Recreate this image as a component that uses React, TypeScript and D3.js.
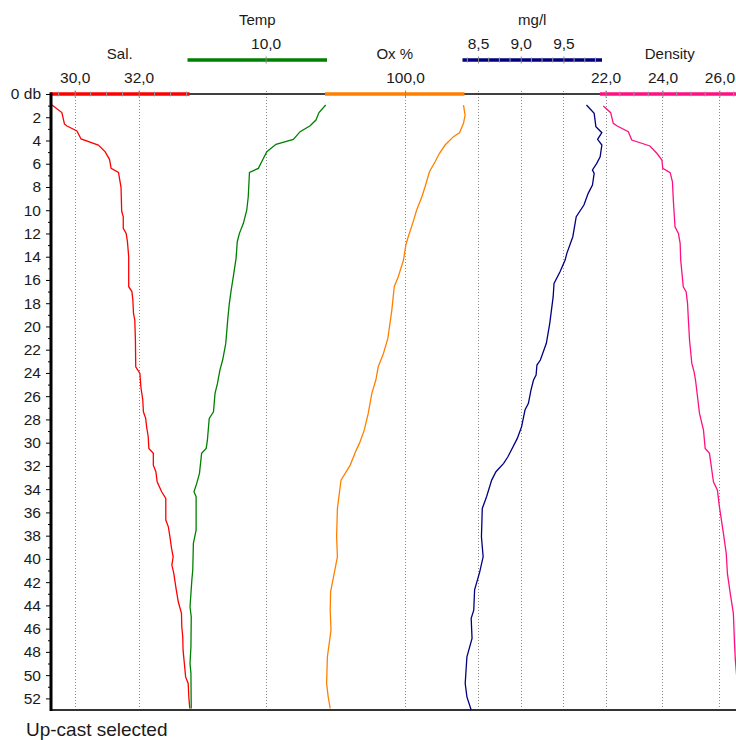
import React, { useEffect, useRef } from "react";
import * as d3 from "d3";

// [depth (db), value] pairs (up-cast)
const salinity: [number, number][] = [
  [0.95, 29.29], [1.6, 29.6], [2.58, 29.68], [2.75, 29.76], [3.18, 30.07], [3.87, 30.2],
  [4.39, 30.74], [4.96, 30.95], [5.62, 31.09], [6.4, 31.14], [6.74, 31.37], [8.03, 31.45],
  [10.07, 31.47], [10.56, 31.52], [11.56, 31.52], [11.99, 31.61], [12.7, 31.65], [14.0, 31.69],
  [16.58, 31.69], [17.0, 31.79], [17.73, 31.82], [18.87, 31.84], [19.45, 31.88], [21.17, 31.9],
  [23.47, 31.91], [24.04, 32.04], [25.19, 32.07], [26.33, 32.13], [27.34, 32.15], [27.91, 32.22],
  [28.63, 32.25], [29.49, 32.3], [30.49, 32.32], [30.92, 32.46], [31.93, 32.46], [32.5, 32.54],
  [33.36, 32.58], [34.22, 32.72], [34.8, 32.85], [36.66, 32.85], [37.24, 32.93], [38.1, 32.98],
  [39.1, 33.03], [39.82, 33.08], [40.53, 33.04], [41.25, 33.1], [42.54, 33.17], [43.69, 33.24],
  [44.69, 33.34], [45.84, 33.35], [46.7, 33.38], [47.85, 33.39], [48.99, 33.43], [50.15, 33.47],
  [50.72, 33.55], [51.87, 33.57], [52.87, 33.6],
];

const temperature: [number, number][] = [
  [0.95, 11.97], [1.6, 11.75], [2.24, 11.65], [2.73, 11.46], [3.24, 11.13], [3.9, 10.91],
  [4.33, 10.34], [4.96, 10.04], [5.68, 9.9], [6.4, 9.76], [6.74, 9.47], [8.84, 9.43],
  [10.0, 9.38], [11.13, 9.27], [11.99, 9.14], [12.71, 9.07], [14.14, 9.03], [15.72, 8.94],
  [16.87, 8.87], [18.01, 8.81], [19.3, 8.76], [20.6, 8.72], [21.5, 8.69], [22.89, 8.59],
  [23.75, 8.5], [24.9, 8.42], [25.76, 8.34], [27.34, 8.29], [27.91, 8.15], [29.78, 8.09],
  [30.49, 8.05], [30.92, 7.9], [32.64, 7.83], [33.5, 7.74], [34.22, 7.65], [34.65, 7.72],
  [37.52, 7.72], [38.67, 7.63], [40.96, 7.61], [41.82, 7.58], [42.97, 7.55], [44.12, 7.52],
  [44.98, 7.56], [47.56, 7.55], [48.99, 7.52], [49.85, 7.55], [52.87, 7.56],
];

const oxygenPct: [number, number][] = [
  [0.95, 114.6], [1.81, 115.0], [2.52, 114.6], [3.33, 113.6], [3.67, 112.1], [4.39, 110.0],
  [5.1, 108.6], [5.83, 107.5], [6.69, 106.1], [7.98, 105.0], [8.84, 104.2], [9.98, 102.9],
  [11.13, 101.9], [12.28, 100.8], [12.99, 100.2], [14.29, 99.6], [15.72, 98.3], [16.58, 97.3],
  [18.59, 96.7], [21.03, 95.7], [22.32, 94.6], [23.47, 93.3], [24.61, 92.7], [25.76, 91.7],
  [27.48, 90.8], [28.92, 89.8], [30.06, 88.6], [30.64, 87.8], [31.93, 86.3], [33.22, 84.0],
  [35.66, 83.1], [38.1, 82.9], [39.82, 83.1], [41.25, 82.3], [42.83, 81.4], [44.41, 81.3],
  [46.13, 81.5], [48.42, 80.6], [50.72, 80.4], [51.87, 80.8], [52.87, 81.3],
];

const oxygenMg: [number, number][] = [
  [0.95, 9.77], [1.66, 9.86], [2.81, 9.88], [3.33, 9.95], [3.9, 9.9], [4.39, 9.95],
  [5.4, 9.93], [5.97, 9.89], [6.54, 9.84], [6.83, 9.86], [7.83, 9.84], [8.55, 9.79],
  [9.55, 9.74], [10.56, 9.65], [12.28, 9.61], [13.71, 9.54], [14.29, 9.52], [15.29, 9.46],
  [16.29, 9.39], [17.44, 9.38], [19.73, 9.34], [21.45, 9.3], [22.89, 9.23], [23.32, 9.19],
  [24.18, 9.18], [24.61, 9.15], [25.47, 9.12], [26.62, 9.09], [27.19, 9.05], [28.63, 9.01],
  [29.63, 8.96], [31.21, 8.85], [31.78, 8.8], [32.5, 8.71], [33.22, 8.66], [34.65, 8.6],
  [35.66, 8.55], [38.1, 8.54], [39.82, 8.56], [41.11, 8.52], [42.66, 8.46], [44.41, 8.45],
  [45.12, 8.42], [46.84, 8.43], [48.42, 8.37], [50.72, 8.35], [51.87, 8.37], [53.0, 8.42],
];

const density: [number, number][] = [
  [1.03, 21.92], [1.61, 22.18], [2.52, 22.27], [2.75, 22.41], [3.24, 22.8], [3.96, 22.92],
  [4.47, 23.56], [5.1, 23.8], [5.68, 23.98], [6.4, 24.01], [6.77, 24.27], [7.55, 24.35],
  [9.12, 24.38], [11.42, 24.44], [11.99, 24.56], [12.85, 24.62], [14.29, 24.64], [16.58, 24.73],
  [17.01, 24.83], [18.01, 24.88], [19.45, 24.91], [21.17, 24.95], [23.18, 25.03], [23.9, 25.11],
  [24.61, 25.16], [26.05, 25.23], [27.48, 25.3], [28.92, 25.44], [30.49, 25.5], [30.92, 25.65],
  [33.36, 25.79], [34.08, 25.93], [35.52, 26.0], [37.81, 26.14], [39.53, 26.24], [41.25, 26.28],
  [42.97, 26.38], [44.69, 26.49], [47.27, 26.53], [48.71, 26.56], [50.5, 26.62], [52.9, 26.7],
];

const depthLabels = d3.range(0, 53, 2);
const depthMinor = d3.range(1, 53, 2);

const panels = [
  { title: "Sal.", data: salinity, color: "#ff0000", domain: [29.26, 33.56], major: [30, 32], minor: 0.5, level: 0 },
  { title: "Temp", data: temperature, color: "#008000", domain: [7.47, 11.98], major: [10], minor: 0, level: 1 },
  { title: "Ox %", data: oxygenPct, color: "#ff8000", domain: [80.25, 114.6], major: [100], minor: 0, level: 0 },
  { title: "mg/l", data: oxygenMg, color: "#000080", domain: [8.33, 9.94], major: [8.5, 9.0, 9.5], minor: 0.125, level: 1 },
  { title: "Density", data: density, color: "#ff1080", domain: [21.84, 26.67], major: [22, 24, 26], minor: 0.5, level: 0 },
];

const font = "'Liberation Sans', Arial, sans-serif";

export default function App() {
  const ref = useRef<SVGSVGElement>(null);

  useEffect(() => {
    const width = 736;
    const left = 51, top = 94, bottom = 710, panelW = 137.5;
    const levelY = [94, 60];

    const svg = d3.select(ref.current);
    svg.selectAll("*").remove();

    const y = d3.scaleLinear().domain([0, 53]).range([top, bottom]);
    const fmt = (d: d3.NumberValue) => d3.format(".1f")(+d).replace(".", ",");

    const scales = panels.map((p, i) =>
      d3.scaleLinear().domain(p.domain).range([left + i * panelW, left + (i + 1) * panelW])
    );

    // dotted gridlines
    panels.forEach((p, i) => {
      svg.append("g")
        .selectAll("line")
        .data(p.major)
        .enter()
        .append("line")
        .attr("x1", d => Math.round(scales[i](d)) + 0.5)
        .attr("x2", d => Math.round(scales[i](d)) + 0.5)
        .attr("y1", top - 3)
        .attr("y2", bottom)
        .attr("stroke", "#8a8a8a")
        .attr("stroke-dasharray", "1,2");
    });

    // top baseline
    svg.append("line")
      .attr("x1", left).attr("x2", width)
      .attr("y1", top).attr("y2", top)
      .attr("stroke", "#000").attr("stroke-width", 1.5);

    // bottom line
    svg.append("line")
      .attr("x1", left).attr("x2", width)
      .attr("y1", bottom).attr("y2", bottom)
      .attr("stroke", "#333").attr("stroke-width", 2);

    // colored parameter axes
    panels.forEach((p, i) => {
      const x = scales[i];
      const ay = levelY[p.level];
      const g = svg.append("g").attr("transform", "translate(0," + ay + ")");

      g.append("line")
        .attr("x1", x.range()[0] - 1).attr("x2", x.range()[1] + 1)
        .attr("stroke", p.color).attr("stroke-width", 3.5);

      if (p.minor > 0) {
        const minorTicks = d3.range(
          Math.ceil(p.domain[0] / p.minor) * p.minor, p.domain[1], p.minor
        ).filter(v => !p.major.some(m => Math.abs(m - v) < 1e-6));
        g.append("g")
          .selectAll("line")
          .data(minorTicks)
          .enter()
          .append("line")
          .attr("x1", d => x(d)).attr("x2", d => x(d))
          .attr("y1", -2.5).attr("y2", 2.5)
          .attr("stroke", "#999");
      }

      const axis = g.append("g")
        .call(d3.axisTop(x).tickValues(p.major).tickSize(4).tickPadding(7).tickFormat(fmt));
      axis.select(".domain").remove();
      axis.selectAll(".tick line").attr("y1", 3.5).attr("y2", -3.5).attr("stroke", "#888");
      axis.selectAll(".tick text").attr("fill", "#1a1a1a");
      axis.attr("font-size", 15.5).attr("font-family", font);

      svg.append("text")
        .attr("x", (x.range()[0] + x.range()[1]) / 2)
        .attr("y", ay - 35)
        .attr("text-anchor", "middle")
        .attr("font-family", font)
        .attr("font-size", 15)
        .attr("fill", "#1a1a1a")
        .text(p.title);
    });

    // profiles
    panels.forEach((p, i) => {
      const x = scales[i];
      const line = d3.line<[number, number]>()
        .x(d => x(d[1]))
        .y(d => y(d[0]));
      svg.append("path")
        .datum(p.data)
        .attr("d", line)
        .attr("fill", "none")
        .attr("stroke", p.color)
        .attr("stroke-width", 1.3);
    });

    // depth axis
    const yAxis = svg.append("g")
      .attr("transform", "translate(" + left + ",0)")
      .call(d3.axisLeft(y).tickValues(depthLabels).tickSize(5).tickPadding(5)
        .tickFormat(d => (+d === 0 ? "0 db" : String(d))));
    yAxis.select(".domain").remove();
    yAxis.attr("font-size", 15.5).attr("font-family", font);
    yAxis.selectAll(".tick text").attr("fill", "#1a1a1a");

    const yMinor = svg.append("g")
      .attr("transform", "translate(" + left + ",0)")
      .call(d3.axisLeft(y).tickValues(depthMinor).tickSize(3).tickFormat(() => ""));
    yMinor.select(".domain").remove();

    svg.append("line")
      .attr("x1", left).attr("x2", left)
      .attr("y1", top - 1.5).attr("y2", bottom + 1)
      .attr("stroke", "#000").attr("stroke-width", 3);

    svg.append("text")
      .attr("x", 26)
      .attr("y", 736)
      .attr("font-family", font)
      .attr("font-size", 19)
      .attr("fill", "#1a1a1a")
      .text("Up-cast selected");
  }, []);

  return (
    <svg
      ref={ref}
      width={736}
      height={740}
      style={{ position: "absolute", left: 0, top: 0, background: "#fff" }}
    />
  );
}
